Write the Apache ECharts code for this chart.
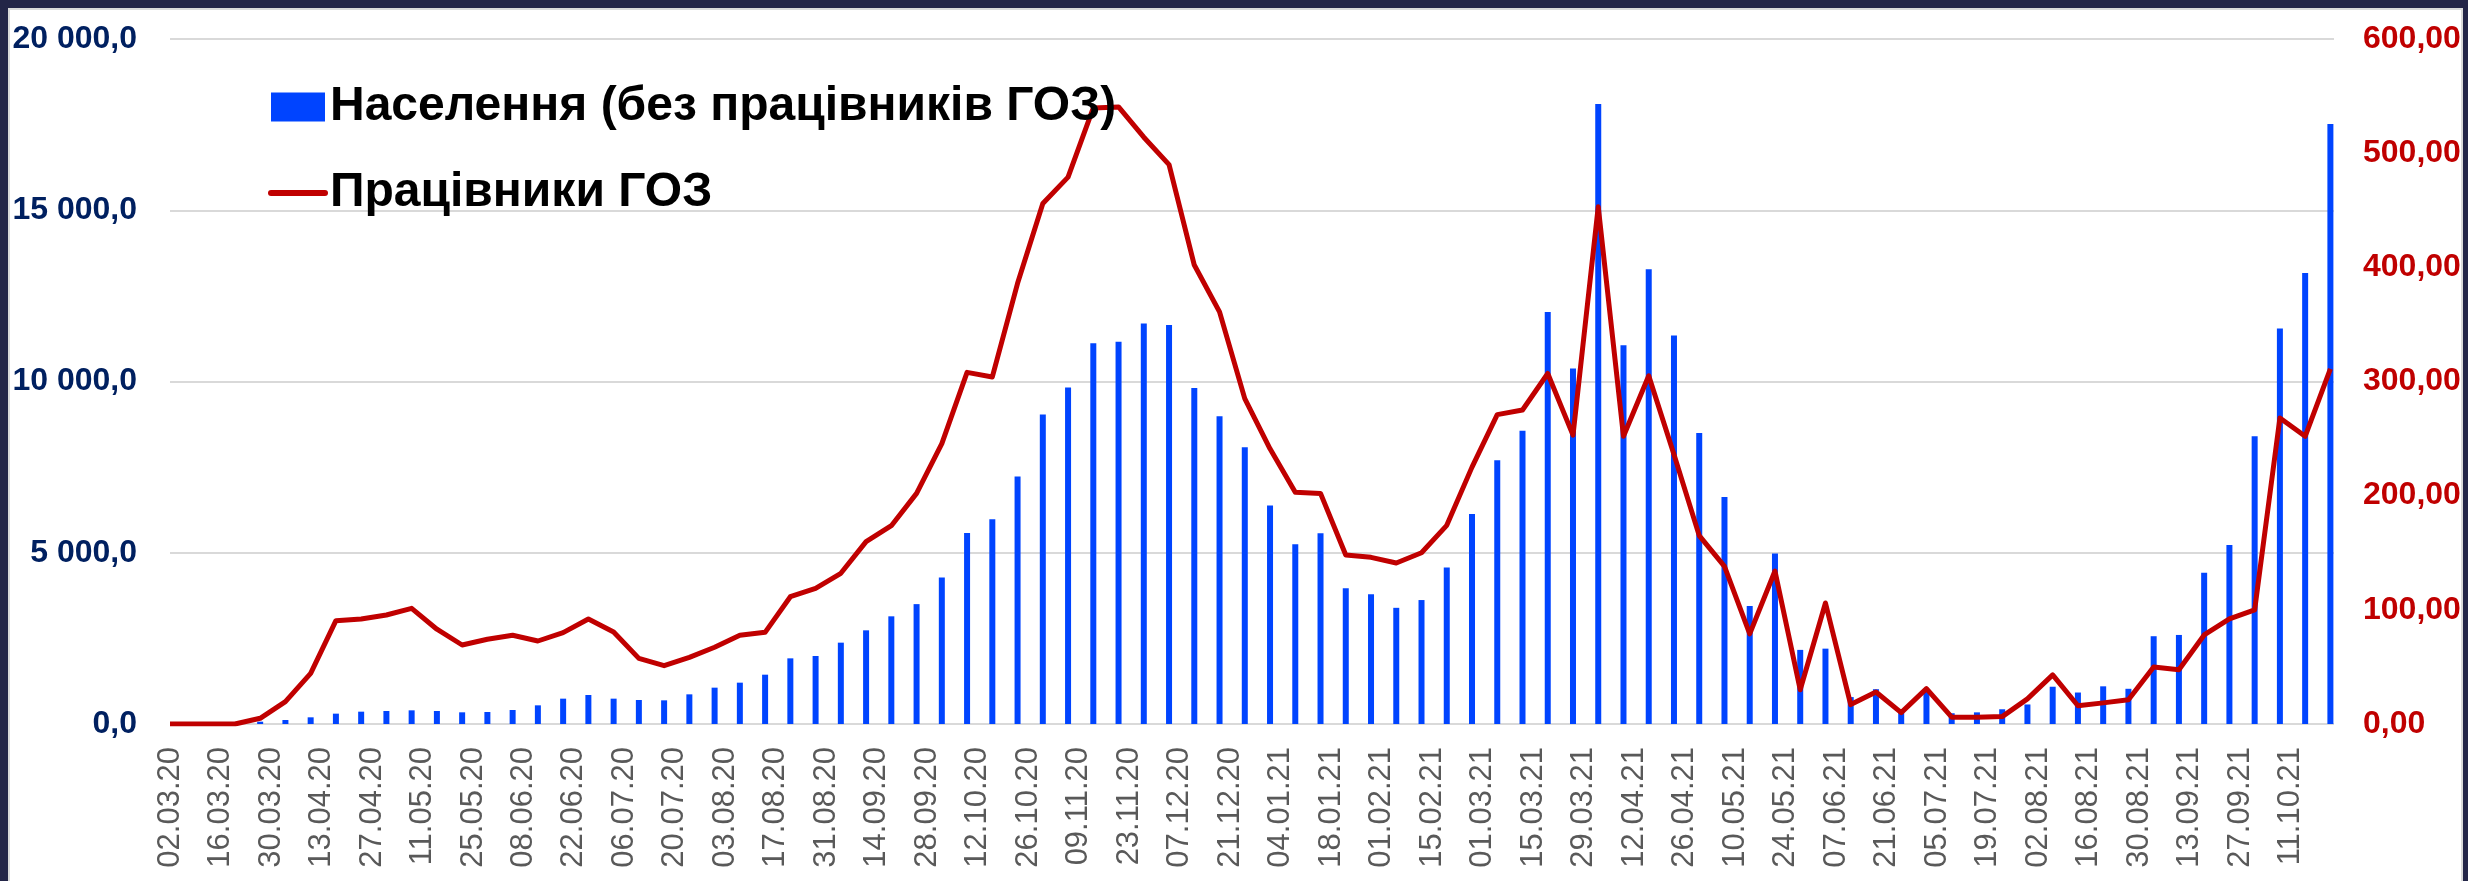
<!DOCTYPE html>
<html>
<head>
<meta charset="utf-8">
<script src="https://cdn.jsdelivr.net/npm/echarts@6.0.0/dist/echarts.min.js"></script>
<style>
    html, body {
        margin: 0;
        padding: 0;
        width: 2468px;
        height: 881px;
        overflow: hidden;
        background: #232547;
    }
    .sheet {
        position: absolute;
        left: 8px;
        top: 8px;
        width: 2455px;
        height: 900px;
        box-sizing: border-box;
        border: 2px solid #d9d9d9;
        background: #fff;
    }
    #chart {
        position: absolute;
        left: 0;
        top: 0;
        width: 2468px;
        height: 881px;
    }
</style>
</head>
<body>
<div class="sheet"></div>
<div id="chart"></div>
<script>
// start of the date axis (day 0), ticks every 14 days
const startDate = '02.03.20';

// report dates: first one is the start, then weekly Fridays
const dates = [
    '02.03.20', '13.03.20', '20.03.20', '27.03.20', '03.04.20', '10.04.20', '17.04.20', '24.04.20',
    '01.05.20', '08.05.20', '15.05.20', '22.05.20', '29.05.20', '05.06.20', '12.06.20', '19.06.20',
    '26.06.20', '03.07.20', '10.07.20', '17.07.20', '24.07.20', '31.07.20', '07.08.20', '14.08.20',
    '21.08.20', '28.08.20', '04.09.20', '11.09.20', '18.09.20', '25.09.20', '02.10.20', '09.10.20',
    '16.10.20', '23.10.20', '30.10.20', '06.11.20', '13.11.20', '20.11.20', '27.11.20', '04.12.20',
    '11.12.20', '18.12.20', '25.12.20', '01.01.21', '08.01.21', '15.01.21', '22.01.21', '29.01.21',
    '05.02.21', '12.02.21', '19.02.21', '26.02.21', '05.03.21', '12.03.21', '19.03.21', '26.03.21',
    '02.04.21', '09.04.21', '16.04.21', '23.04.21', '30.04.21', '07.05.21', '14.05.21', '21.05.21',
    '28.05.21', '04.06.21', '11.06.21', '18.06.21', '25.06.21', '02.07.21', '09.07.21', '16.07.21',
    '23.07.21', '30.07.21', '06.08.21', '13.08.21', '20.08.21', '27.08.21', '03.09.21', '10.09.21',
    '17.09.21', '24.09.21', '01.10.21', '08.10.21', '15.10.21', '22.10.21'
];

// Населення (без працівників ГОЗ), left axis
const population = [
    0, 0, 0, 68, 117, 195, 302, 360, 380, 399, 380, 341, 350, 409, 545, 740,
    847, 740, 701, 691, 866, 1061, 1207, 1440, 1917, 1986, 2375, 2735, 3144, 3500, 4280, 5580,
    5977, 7227, 9036, 9822, 11115, 11158, 11696, 11653, 9811, 8982, 8078, 6376, 5245, 5568, 3963, 3791,
    3392, 3619, 4566, 6128, 7700, 8562, 12030, 10380, 18100, 11062, 13275, 11340, 8500, 6625, 3446, 4981,
    2164, 2200, 786, 1016, 410, 943, 314, 340, 430, 570, 1088, 919, 1100, 1028, 2563, 2600,
    4413, 5223, 8403, 11546, 13166, 17518
];

// Працівники ГОЗ, right axis
const healthWorkers = [
    0, 0, 0, 5, 19.6, 44.4, 90.5, 92, 95.5, 101.3, 83, 69.2, 74.2, 77.7, 72.7, 80,
    92, 80.6, 57.5, 51.1, 58.4, 67.2, 77.7, 80.3, 111.5, 118.8, 132, 159.7, 173.7, 202, 245.6, 308,
    304, 386, 456, 479, 539.6, 540.5, 514, 490, 402, 361, 285, 241, 203, 202, 148, 146,
    141, 150, 174, 225, 271, 275, 307, 253, 453, 252, 305, 236, 165, 138, 79, 134,
    30, 106, 17, 28, 10, 31, 6, 6, 6.5, 22, 43, 16, 18.5, 21.3, 50, 47.5,
    78, 92, 100, 268, 252, 311
];

const seriesNames = ['Населення (без працівників ГОЗ)', 'Працівники ГОЗ'];

const DAY = 86400000;

function toUtc(str) {
    const parts = str.split('.').map(Number);
    return Date.UTC(2000 + parts[2], parts[1] - 1, parts[0]);
}

function dayOf(str) {
    return Math.round((toUtc(str) - toUtc(startDate)) / DAY);
}

function dayLabel(day) {
    if (day % 14 !== 0) {
        return '';
    }
    const d = new Date(toUtc(startDate) + day * DAY);
    const pad = n => (n < 10 ? '0' : '') + n;
    return pad(d.getUTCDate()) + '.' + pad(d.getUTCMonth() + 1) + '.' + String(d.getUTCFullYear()).slice(2);
}

const font = 'Liberation Sans';

const option = {
    animation: false,
    textStyle: {
        fontFamily: font
    },
    grid: {
        left: 170,
        right: 134,
        top: 39,
        bottom: 157,
        containLabel: false
    },
    legend: {
        orient: 'vertical',
        left: 263,
        top: 78,
        itemWidth: 54,
        itemHeight: 29,
        itemGap: 38,
        textStyle: {
            fontFamily: font,
            fontSize: 48,
            fontWeight: 'bold',
            color: '#000'
        },
        data: [
            { name: seriesNames[0], icon: 'rect' },
            {
                name: seriesNames[1],
                itemStyle: { opacity: 0 },
                lineStyle: { width: 6, color: '#c00000', cap: 'round' }
            }
        ]
    },
    xAxis: {
        type: 'value',
        min: 0,
        max: 600,
        interval: 14,
        axisLine: { show: false },
        axisTick: { show: false },
        splitLine: { show: false },
        axisLabel: {
            rotate: 90,
            margin: 23,
            color: '#595959',
            fontFamily: font,
            fontSize: 31,
            formatter: dayLabel
        }
    },
    yAxis: [
        {
            type: 'value',
            min: 0,
            max: 20000,
            interval: 5000,
            axisLine: { show: false },
            axisTick: { show: false },
            splitLine: {
                lineStyle: { color: '#d9d9d9', width: 2 }
            },
            axisLabel: {
                margin: 33,
                color: '#002060',
                fontFamily: font,
                fontSize: 32,
                fontWeight: 'bold',
                formatter: v => String(v).replace(/\B(?=(\d{3})+(?!\d))/g, ' ') + ',0'
            }
        },
        {
            type: 'value',
            min: 0,
            max: 600,
            interval: 100,
            axisLine: { show: false },
            axisTick: { show: false },
            splitLine: { show: false },
            axisLabel: {
                margin: 29,
                color: '#c00000',
                fontFamily: font,
                fontSize: 32,
                fontWeight: 'bold',
                formatter: v => v + ',00'
            }
        }
    ],
    series: [
        {
            name: seriesNames[0],
            type: 'bar',
            yAxisIndex: 0,
            barWidth: 6,
            itemStyle: { color: '#0044ff' },
            data: dates.map((d, i) => [dayOf(d), population[i]])
        },
        {
            name: seriesNames[1],
            type: 'line',
            yAxisIndex: 1,
            symbol: 'none',
            z: 3,
            lineStyle: { color: '#c00000', width: 5, join: 'round' },
            itemStyle: { color: '#c00000' },
            data: dates.map((d, i) => [dayOf(d), healthWorkers[i]])
        }
    ]
};

const chart = echarts.init(document.getElementById('chart'));
chart.setOption(option);
</script>
</body>
</html>
